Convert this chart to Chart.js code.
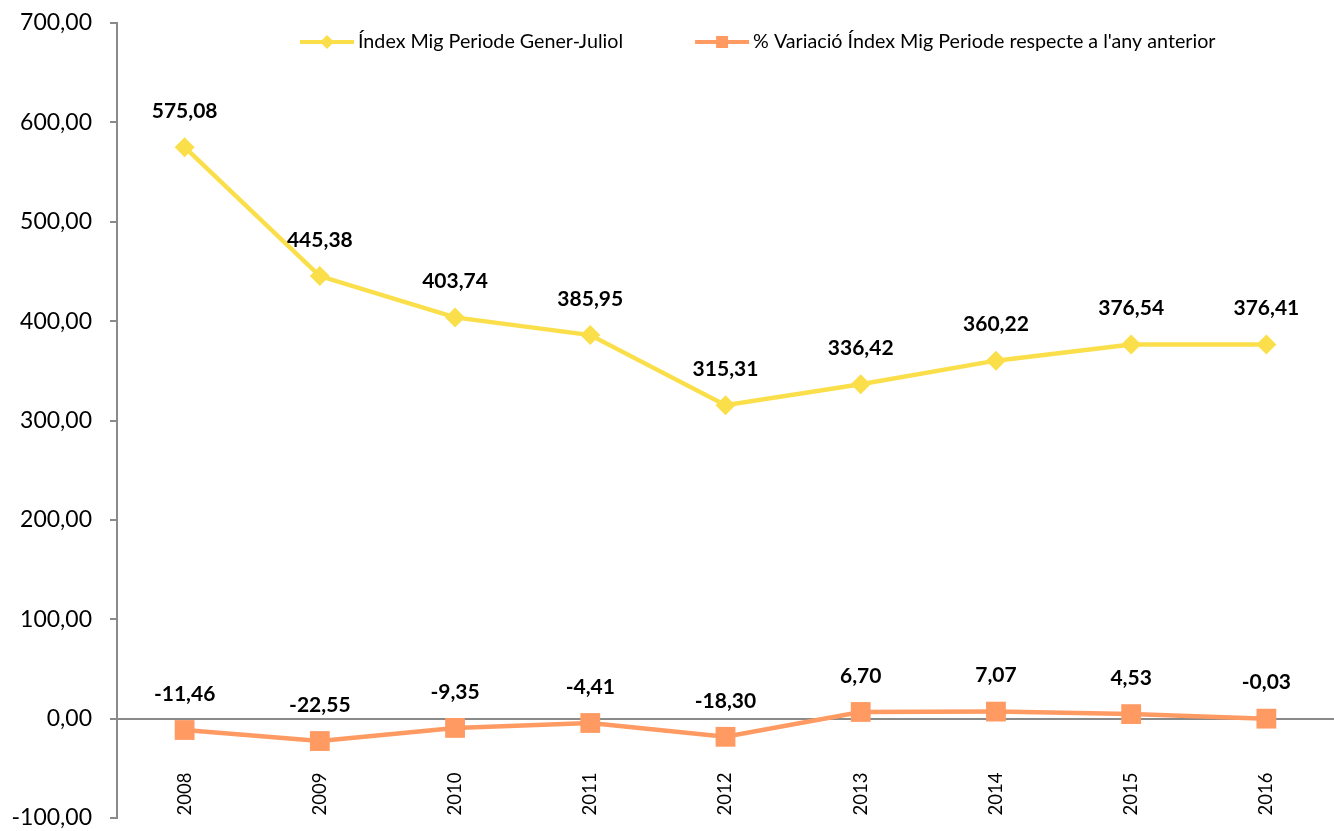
<!DOCTYPE html>
<html>
<head>
<meta charset="utf-8">
<script src="https://cdn.jsdelivr.net/npm/chart.js@4.4.1/dist/chart.umd.min.js"></script>
<style>
  html, body { margin: 0; padding: 0; background: #fff; overflow: hidden; }
  #wrap { width: 1334px; height: 831px; }
</style>
</head>
<body>
<div id="wrap"><canvas id="mycanvas"></canvas></div>
<script>
var years = ['2008','2009','2010','2011','2012','2013','2014','2015','2016'];
var indexValues = [575.08, 445.38, 403.74, 385.95, 315.31, 336.42, 360.22, 376.54, 376.41];
var variationValues = [-11.46, -22.55, -9.35, -4.41, -18.30, 6.70, 7.07, 4.53, -0.03];
var seriesNames = ['Índex Mig Periode Gener-Juliol', "% Variació Índex Mig Periode respecte a l'any anterior"];
var yTicks = [-100, 0, 100, 200, 300, 400, 500, 600, 700];

var FONT = 'Lato, "Open Sans", sans-serif';
var yellow = '#FADF4B';
var orange = '#FF9A62';

function fmt(v){
	return v.toFixed(2).replace('.', ',');
}

// drop the half-label padding chart.js adds, the plot runs to the edges
function noPad(scale){
	scale.paddingTop = 0;
	scale.paddingBottom = 0;
	scale.paddingLeft = 0;
	scale.paddingRight = 0;
}

// value labels above each point
var valueLabels = {
	id: 'valueLabels',
	afterDatasetsDraw: function(chart){
		var ctx = chart.ctx;
		ctx.save();
		ctx.font = 'bold 21px ' + FONT;
		ctx.fillStyle = '#000';
		ctx.textAlign = 'center';
		ctx.textBaseline = 'middle';
		chart.data.datasets.forEach(function(ds, i){
			var meta = chart.getDatasetMeta(i);
			meta.data.forEach(function(pt, j){
				ctx.fillText(fmt(ds.data[j]), pt.x, pt.y - 36);
			});
		});
		ctx.restore();
	}
};

// legend inside the plot: line + marker + text
var lineLegend = {
	id: 'lineLegend',
	afterDraw: function(chart){
		var ctx = chart.ctx;
		var y = 42;
		var x = 300;
		ctx.save();
		ctx.font = '19.7px ' + FONT;
		ctx.textBaseline = 'middle';
		chart.data.datasets.forEach(function(ds, i){
			ctx.strokeStyle = ds.borderColor;
			ctx.lineWidth = 4;
			ctx.beginPath();
			ctx.moveTo(x, y);
			ctx.lineTo(x + 54, y);
			ctx.stroke();
			ctx.fillStyle = ds.borderColor;
			ctx.beginPath();
			if (i === 0) {
				ctx.moveTo(x + 27, y - 7); ctx.lineTo(x + 34, y); ctx.lineTo(x + 27, y + 7); ctx.lineTo(x + 20, y);
			} else {
				ctx.rect(x + 21, y - 6, 12, 12);
			}
			ctx.fill();
			ctx.fillStyle = '#000';
			ctx.fillText(ds.label, x + 58, y);
			x += 58 + ctx.measureText(ds.label).width + 72;
		});
		ctx.restore();
	}
};

var chartdata = {
	labels: years,
	datasets: [
		{
			label: seriesNames[0],
			data: indexValues,
			borderColor: yellow,
			backgroundColor: yellow,
			borderWidth: 4.5,
			pointStyle: 'rectRot',
			pointRadius: 10,
			pointHoverRadius: 10,
			pointBorderWidth: 0,
			tension: 0
		},
		{
			label: seriesNames[1],
			data: variationValues,
			borderColor: orange,
			backgroundColor: orange,
			borderWidth: 4.5,
			pointStyle: 'rect',
			pointRadius: 14,
			pointHoverRadius: 14,
			pointBorderWidth: 0,
			tension: 0
		}
	]
};

var ctx = document.getElementById('mycanvas');
var lineGraph = new Chart(ctx, {
	type: 'line',
	data: chartdata,
	plugins: [valueLabels, lineLegend],
	options: {
		responsive: true,
		maintainAspectRatio: false,
		animation: false,
		layout: { autoPadding: false, padding: { top: 23, right: 0, bottom: 13, left: 0 } },
		plugins: {
			legend: { display: false },
			tooltip: { enabled: false }
		},
		scales: {
			x: {
				position: { y: 0 },
				offset: true,
				afterFit: noPad,
				grid: { display: false, drawTicks: false },
				border: { display: true, color: '#8a8a8a', width: 2 },
				ticks: {
					minRotation: 90,
					maxRotation: 90,
					padding: 54,
					color: '#000',
					font: { family: FONT, size: 18.5 }
				}
			},
			y: {
				min: -100,
				max: 700,
				afterBuildTicks: function(scale){
					scale.ticks = yTicks.map(function(v){ return { value: v }; });
				},
				afterFit: function(scale){
					scale.width = 117;
					noPad(scale);
				},
				grid: { drawOnChartArea: false, drawTicks: true, tickLength: 7, color: '#8a8a8a', lineWidth: 2 },
				border: { display: true, color: '#8a8a8a', width: 2 },
				ticks: {
					padding: 18,
					color: '#000',
					font: { family: FONT, size: 23 },
					callback: function(v){ return fmt(v); }
				}
			}
		}
	}
});
</script>
</body>
</html>
